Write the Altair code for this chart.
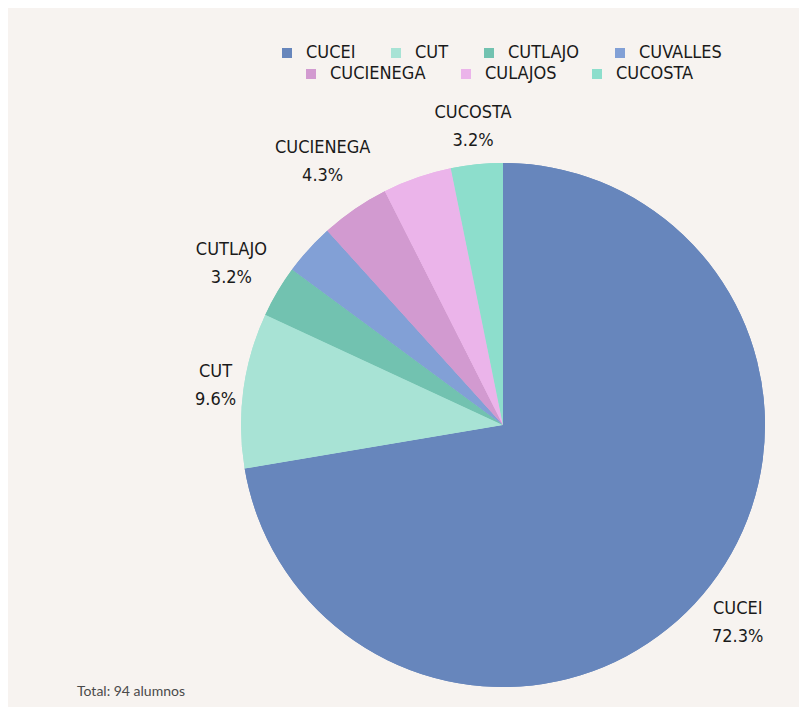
import altair as alt
import pandas as pd

centros = ["CUCEI", "CUT", "CUTLAJO", "CUVALLES", "CUCIENEGA", "CULAJOS", "CUCOSTA"]
alumnos = [68, 9, 3, 3, 4, 4, 3]
etiquetado = [True, True, True, False, True, False, True]
colores = ["#6786bc", "#a8e3d5", "#72c2b0", "#82a0d6", "#d29ad0", "#ebb4ea", "#8ddecc"]
total_texto = ["Total: 94 alumnos"]

df = pd.DataFrame({
    "centro": centros,
    "alumnos": alumnos,
    "etiqueta": etiquetado,
    "orden": list(range(len(centros))),
})

FONT = "DejaVu Sans Condensed, sans-serif"
FS = 18
CX, CY, R = 495, 417, 262

base = alt.Chart(df)

lab_data = alt.Chart(df).transform_joinaggregate(total="sum(alumnos)").transform_window(
    cum="sum(alumnos)", sort=[alt.SortField("orden")], frame=[None, 0]
).transform_calculate(
    texto="datum.centro + '\\n' + format(datum.alumnos / datum.total, '.1%')",
    mid="2 * PI * (datum.cum - datum.alumnos / 2) / datum.total",
).transform_calculate(
    rad=f"{R} + 9 + abs(sin(datum.mid)) * length(datum.centro) * 5.3 + abs(cos(datum.mid)) * 25"
).transform_filter("datum.etiqueta")


def pie(values, lx, ly):
    return base.mark_arc(outerRadius=R).encode(
        theta=alt.Theta("alumnos:Q", stack=True),
        color=alt.Color(
            "centro:N",
            scale=alt.Scale(domain=centros, range=colores),
            legend=alt.Legend(
                values=values, orient="none", legendX=lx, legendY=ly,
                direction="horizontal", columns=len(values), title=None,
                symbolType="square", symbolSize=100, symbolStrokeWidth=0,
                labelFont=FONT, labelFontSize=FS, labelColor="#1a1a1a",
                labelOffset=10, columnPadding=31,
            ),
        ),
        order=alt.Order("orden:Q"),
        x=alt.value(CX),
        y=alt.value(CY),
    )


pie1 = pie(centros[:4], 270, 36)
pie2 = pie(centros[4:], 294, 57)

labels = lab_data.mark_text(
    font=FONT, fontSize=FS, lineBreak="\n", color="#1a1a1a", lineHeight=28, dy=-14
).encode(
    theta=alt.Theta("mid:Q", scale=None),
    radius=alt.Radius("rad:Q", scale=None),
    text="texto:N",
    x=alt.value(CX),
    y=alt.value(CY),
)

total = alt.Chart(pd.DataFrame({"t": total_texto})).mark_text(
    align="left", baseline="middle", font="Lato, Open Sans, sans-serif", fontSize=14, color="#4a4a4a"
).encode(text="t:N", x=alt.value(69), y=alt.value(684))

chart = alt.layer(pie1, pie2, labels, total).resolve_scale(color="independent").properties(
    width=791, height=699, background="#f7f3f0", padding=0, autosize="none"
).configure_view(stroke=None)

chart.save("out.html", embed_options={"renderer": "svg", "actions": False})
